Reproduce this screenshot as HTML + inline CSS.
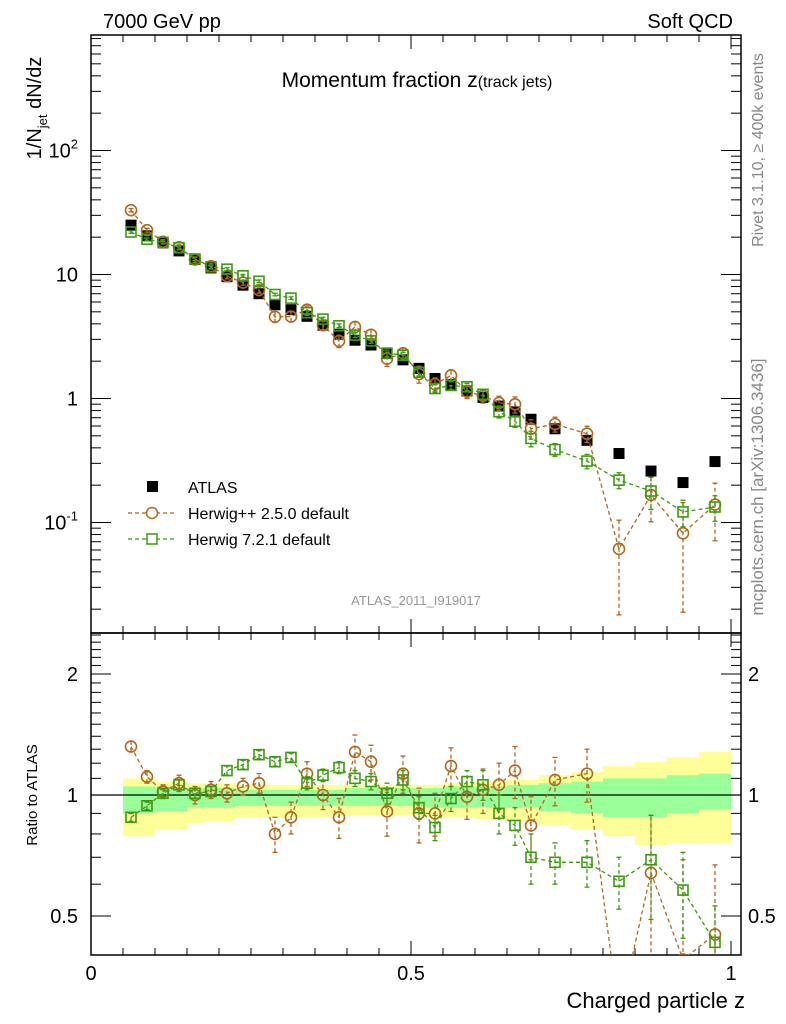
<!DOCTYPE html>
<html><head><meta charset="utf-8">
<style>
html,body{margin:0;padding:0;background:#fff;width:786px;height:1024px;overflow:hidden;}
svg{display:block;font-family:"Liberation Sans",Arial,sans-serif;}
</style></head>
<body>
<svg id="chart" xmlns="http://www.w3.org/2000/svg" width="786" height="1024" viewBox="0 0 786 1024">
  <rect x="0" y="0" width="786" height="1024" fill="#fff"/>
  <g id="bands"></g>
  <g id="axes"></g>
  <g id="series"></g>
  <text x="103" y="28" font-size="20">7000 GeV pp</text>
  <text x="733" y="28" font-size="20" text-anchor="end">Soft QCD</text>
  <text x="417" y="87" text-anchor="middle"><tspan font-size="21">Momentum fraction z</tspan><tspan font-size="16">(track jets)</tspan></text>
  <text x="416" y="605" text-anchor="middle" font-size="13" fill="#999">ATLAS_2011_I919017</text>
  <text transform="translate(763,150) rotate(-90)" text-anchor="middle" font-size="16" fill="#888">Rivet 3.1.10, ≥ 400k events</text>
  <text transform="translate(763,487) rotate(-90)" text-anchor="middle" font-size="17" fill="#888">mcplots.cern.ch [arXiv:1306.3436]</text>
  <text transform="translate(41,108) rotate(-90)" text-anchor="middle" font-size="20">1/N<tspan font-size="13" dy="6">jet</tspan><tspan dy="-6"> dN/dz</tspan></text>
  <text transform="translate(37,795) rotate(-90)" text-anchor="middle" font-size="15">Ratio to ATLAS</text>
  <text x="745" y="1008" text-anchor="end" font-size="22">Charged particle z</text>
  <g>
    <g>
      <rect x="147" y="481" width="11" height="11" fill="#000"/>
      <text x="188" y="493" font-size="16">ATLAS</text>
    </g>
    <g>
      <line x1="128" y1="513" x2="175" y2="513" stroke="#b5651d" stroke-width="1.3" stroke-dasharray="4,3"/>
      <circle cx="152" cy="513" r="5.5" fill="#fff" stroke="#b5651d" stroke-width="1.5"/>
      <text x="188" y="519" font-size="16">Herwig++ 2.5.0 default</text>
    </g>
    <g>
      <line x1="128" y1="539" x2="175" y2="539" stroke="#3b9a0f" stroke-width="1.3" stroke-dasharray="4,3"/>
      <rect x="147" y="534" width="10" height="10" fill="#fff" stroke="#3b9a0f" stroke-width="1.5"/>
      <text x="188" y="545" font-size="16">Herwig 7.2.1 default</text>
    </g>
  </g>
</svg>
<script>
// ---- data ----
const binEdges = [0.05,0.075,0.1,0.125,0.15,0.175,0.2,0.225,0.25,0.275,0.3,0.325,0.35,0.375,0.4,0.425,0.45,0.475,0.5,0.525,0.55,0.575,0.6,0.625,0.65,0.675,0.7,0.75,0.8,0.85,0.9,0.95,1.0];
const atlasValues = [25,20.5,18,15.5,13.2,11.3,9.6,8.2,7.0,5.7,5.2,4.6,3.9,3.3,2.95,2.7,2.3,2.05,1.75,1.45,1.3,1.15,1.02,0.87,0.78,0.68,0.57,0.46,0.36,0.26,0.21,0.31];
const herwigppRatio = [1.32,1.11,1.02,1.07,1.0,1.03,1.01,1.05,1.07,0.80,0.88,1.13,1.0,0.88,1.28,1.21,0.91,1.13,0.90,0.90,1.18,0.99,1.03,1.06,1.15,0.84,1.09,1.13,0.17,0.64,0.39,0.45];
const herwigppErr = [0.04,0.04,0.04,0.05,0.05,0.05,0.05,0.05,0.06,0.08,0.08,0.08,0.08,0.10,0.13,0.12,0.12,0.12,0.14,0.11,0.13,0.12,0.13,0.14,0.17,0.15,0.15,0.17,0.12,0.25,0.3,0.22];
const herwig7Ratio = [0.88,0.94,1.01,1.06,1.01,1.02,1.15,1.19,1.26,1.21,1.24,1.07,1.12,1.17,1.10,1.08,1.01,1.09,0.93,0.83,0.98,1.08,1.06,0.90,0.84,0.70,0.68,0.68,0.61,0.69,0.58,0.43];
const herwig7Err = [0.02,0.02,0.02,0.03,0.03,0.03,0.03,0.03,0.03,0.03,0.03,0.04,0.04,0.04,0.05,0.05,0.06,0.06,0.06,0.06,0.07,0.07,0.09,0.10,0.09,0.10,0.08,0.09,0.09,0.20,0.14,0.10];
const bandOuterUp = [1.10,1.10,1.08,1.08,1.07,1.07,1.07,1.06,1.06,1.06,1.06,1.06,1.06,1.06,1.06,1.06,1.06,1.06,1.06,1.06,1.07,1.07,1.08,1.08,1.09,1.09,1.12,1.14,1.18,1.21,1.24,1.28];
const bandOuterDn = [0.79,0.79,0.82,0.82,0.85,0.86,0.86,0.88,0.88,0.88,0.88,0.88,0.88,0.89,0.89,0.89,0.89,0.89,0.89,0.88,0.88,0.88,0.87,0.87,0.86,0.86,0.84,0.82,0.79,0.75,0.76,0.76];
const bandInnerUp = [1.05,1.05,1.04,1.04,1.04,1.04,1.04,1.03,1.03,1.03,1.03,1.03,1.03,1.03,1.04,1.04,1.04,1.04,1.04,1.04,1.05,1.05,1.05,1.05,1.06,1.06,1.07,1.08,1.10,1.10,1.12,1.13];
const bandInnerDn = [0.90,0.90,0.91,0.91,0.93,0.93,0.93,0.94,0.94,0.94,0.94,0.94,0.94,0.94,0.94,0.94,0.94,0.94,0.94,0.93,0.93,0.93,0.93,0.93,0.93,0.93,0.91,0.90,0.88,0.88,0.90,0.92];
const mainTickLabels = ["10^-1","1","10","10^2"];
const ratioTickLabels = ["0.5","1","2"];
const xTickLabels = ["0","0.5","1"];

// ---- scales ----
const NS="http://www.w3.org/2000/svg";
const L=91,R=741,T=35,MID=633,B=955;
function clamp(v,a,b){return Math.max(a,Math.min(b,v));}
function xs(z){return 91+z*640;}
function ymRaw(v){return 398.5-124*Math.log10(v);}
function yrRaw(r){return 795-402*Math.log10(r);}
function ym(v){return clamp(ymRaw(v),T-40,MID+40);}
function yr(r){return clamp(yrRaw(r),MID-40,B+60);}
function mk(tag,attrs,parent){const e=document.createElementNS(NS,tag);for(const k in attrs)e.setAttribute(k,attrs[k]);parent.appendChild(e);return e;}
const axes=document.getElementById('axes'), series=document.getElementById('series'), bands=document.getElementById('bands');
const centers=atlasValues.map((v,i)=>(binEdges[i]+binEdges[i+1])/2);

// bands
for(let i=0;i<atlasValues.length;i++){
  const x1=xs(binEdges[i]),x2=xs(binEdges[i+1]);
  const y1=mk('rect',{x:x1,y:yr(bandOuterUp[i]),width:x2-x1,height:yr(bandOuterDn[i])-yr(bandOuterUp[i]),fill:'#ffff99'},bands);
  
  
  const g1=mk('rect',{x:x1,y:yr(bandInnerUp[i]),width:x2-x1,height:yr(bandInnerDn[i])-yr(bandInnerUp[i]),fill:'#99ff99'},bands);
  
  
}

// frames
const f1=mk('rect',{x:L,y:T,width:R-L,height:MID-T,fill:'none',stroke:'#000','stroke-width':1.5},axes);


const f2=mk('rect',{x:L,y:MID,width:R-L,height:B-MID,fill:'none',stroke:'#000','stroke-width':1.5},axes);


const ref=mk('line',{x1:L,y1:yr(1),x2:R,y2:yr(1),stroke:'#000','stroke-width':1.2},axes);



// x ticks
for(let k=0;k<=20;k++){
  const z=k*0.05,x=xs(z),major=(k%10===0),len=major?14:7;
  for(const [y0,d] of [[B,-1],[MID,-1],[MID,1],[T,1]]){
    mk('line',{x1:x,y1:y0,x2:x,y2:y0+d*len,stroke:'#000','stroke-width':1},axes);
  }
}
xTickLabels.forEach((s,i)=>{const t=mk('text',{x:xs(i*0.5),y:980,'font-size':20,'text-anchor':'middle'},axes);t.textContent=s;
  
  });

// main y ticks
for(let e=-2;e<=2;e++){
  for(let m=1;m<=9;m++){
    const v=m*Math.pow(10,e),y=ymRaw(v);
    if(y<T||y>MID)continue;
    const len=m===1?20:10;
    mk('line',{x1:L,y1:y,x2:L+len,y2:y,stroke:'#000','stroke-width':1},axes);
    mk('line',{x1:R,y1:y,x2:R-len,y2:y,stroke:'#000','stroke-width':1},axes);
  }
}
mainTickLabels.forEach((s,i)=>{
  const y=ymRaw(Math.pow(10,i-1))+7;
  const parts=s.split('^');
  const t=mk('text',{x:78,y:y,'font-size':20,'text-anchor':'end'},axes);
  
  
  if(parts.length>1){t.textContent=parts[0];const sp=mk('tspan',{dy:-9,'font-size':13},t);sp.textContent=parts[1];}
  else t.textContent=s;
});

// ratio y ticks
for(let k=4;k<=25;k++){
  const r=k/10,y=yrRaw(r);
  if(y<MID||y>B)continue;
  const major=(k===5||k===10||k===20),len=major?20:10;
  mk('line',{x1:L,y1:y,x2:L+len,y2:y,stroke:'#000','stroke-width':1},axes);
  mk('line',{x1:R,y1:y,x2:R-len,y2:y,stroke:'#000','stroke-width':1},axes);
}
ratioTickLabels.forEach(s=>{
  const y=yrRaw(parseFloat(s))+7;
  const t=mk('text',{x:78,y:y,'font-size':20,'text-anchor':'end'},axes);t.textContent=s;
  
  
  const t2=mk('text',{x:748,y:y,'font-size':20},axes);t2.textContent=s;
  
  
});

// clip paths
const defs=mk('defs',{},series);
const c1=mk('clipPath',{id:'cm'},defs);mk('rect',{x:L,y:T,width:R-L,height:MID-T},c1);
const c2=mk('clipPath',{id:'cr'},defs);mk('rect',{x:L,y:MID,width:R-L,height:B-MID},c2);
const gm=mk('g',{'clip-path':'url(#cm)'},series);
const gr=mk('g',{'clip-path':'url(#cr)'},series);

function drawModel(ratio,err,color,shape,name){
  for(const [g,fy,fraw,top,bot,valF,errF] of [
    [gm,ym,ymRaw,T,MID,i=>atlasValues[i]*ratio[i],i=>atlasValues[i]*err[i]],
    [gr,yr,yrRaw,MID,B,i=>ratio[i],i=>err[i]]]){
    const pts=centers.map((c,i)=>xs(c)+','+fy(valF(i))).join(' ');
    const pl=mk('polyline',{points:pts,fill:'none',stroke:color,'stroke-width':1.3,'stroke-dasharray':'4,3'},g);
    
    
    centers.forEach((c,i)=>{
      const x=xs(c),v=valF(i),e=errF(i);
      const lo=Math.max(v-e,1e-4),hi=v+e;
      mk('line',{x1:x,y1:fy(lo),x2:x,y2:fy(hi),stroke:color,'stroke-width':1.3,'stroke-dasharray':'4,3'},g);
      mk('line',{x1:x-2.5,y1:fy(lo),x2:x+2.5,y2:fy(lo),stroke:color,'stroke-width':1.3},g);
      mk('line',{x1:x-2.5,y1:fy(hi),x2:x+2.5,y2:fy(hi),stroke:color,'stroke-width':1.3},g);
      const yRaw=fraw(v);
      if(yRaw<top-6||yRaw>bot+6) return;
      const y=fy(v);
      let m;
      if(shape==='circle') m=mk('circle',{cx:x,cy:y,r:5.5,fill:'none',stroke:color,'stroke-width':1.6},g);
      else m=mk('rect',{x:x-5,y:y-5,width:10,height:10,fill:'none',stroke:color,'stroke-width':1.6},g);
      
      
    });
  }
}
// ATLAS data
centers.forEach((c,i)=>{
  const r=mk('rect',{x:xs(c)-5.5,y:ym(atlasValues[i])-5.5,width:11,height:11,fill:'#000'},gm);
  
  
});
drawModel(herwigppRatio,herwigppErr,'#b5651d','circle','herwigpp');
drawModel(herwig7Ratio,herwig7Err,'#3b9a0f','square','herwig7');
</script>
</body></html>
